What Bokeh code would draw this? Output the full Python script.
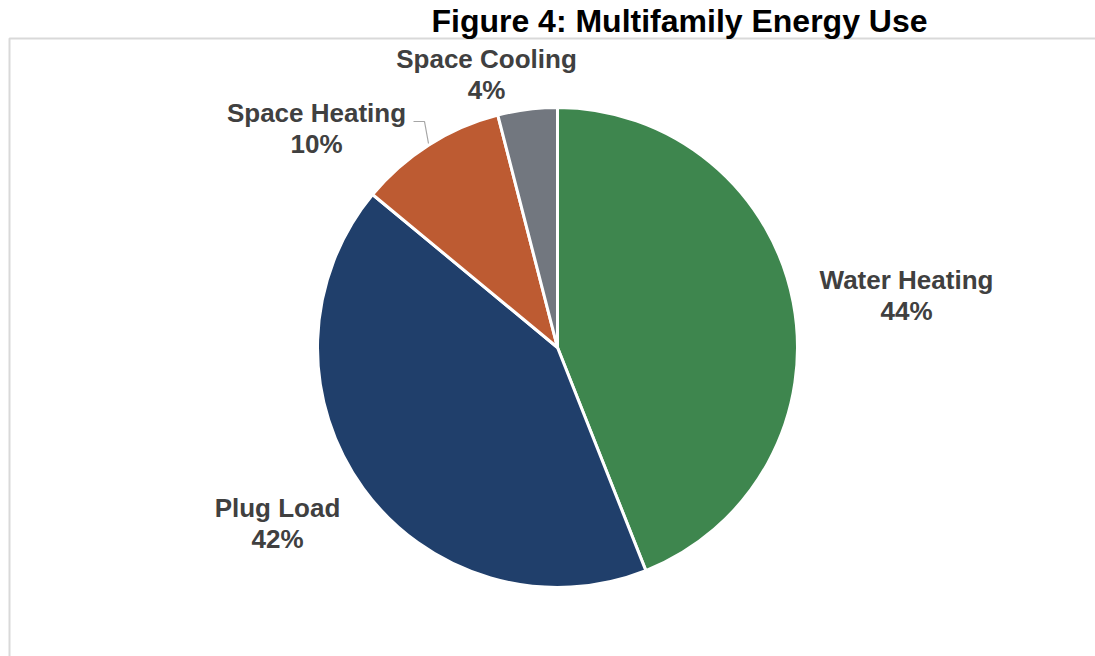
import math
from bokeh.plotting import figure
from bokeh.models import Range1d, Label, ColumnDataSource
from bokeh.embed import file_html
from bokeh.resources import INLINE

# ---- data ----
categories = ["Water Heating", "Plug Load", "Space Heating", "Space Cooling"]
values = [44, 42, 10, 4]
pct_labels = ["44%", "42%", "10%", "4%"]
colors = ["#3E864E", "#203F6B", "#BD5B32", "#72777F"]

# ---- layout (screen-pixel coordinates; y is negated screen y) ----
W, H = 1095, 656
cx, cy, R = 557, -347, 240
label_pos = [(906, -279), (277, -507), (316, -112), (486, -58)]
line_gap = 31
FONT = "Liberation Sans"
TXT = "#404040"

p = figure(width=W, height=H, output_backend="svg", toolbar_location=None,
           x_range=Range1d(0, W), y_range=Range1d(-H, 0),
           min_border=0, min_border_left=0, min_border_right=0,
           min_border_top=0, min_border_bottom=0)
p.axis.visible = False
p.grid.visible = False
p.outline_line_color = None
p.background_fill_color = "white"
p.border_fill_color = "white"

# frame border (chart area)
p.line([9, 9, 1100], [-700, -38, -38], line_color="#D9D9D9", line_width=2)

total = float(sum(values))
starts, ends = [], []
acc = 0.0
for v in values:
    starts.append(math.pi / 2 - 2 * math.pi * acc / total)
    acc += v
    ends.append(math.pi / 2 - 2 * math.pi * acc / total)

src = ColumnDataSource(dict(cat=categories, val=values, start=starts, end=ends, color=colors))
p.wedge(x=cx, y=cy, radius=R, start_angle="start", end_angle="end", direction="clock",
        fill_color="color", line_color="white", line_width=3, source=src)

# leader line for Space Heating
p.line([413, 424, 428], [-121, -121, -143], line_color="#A6A6A6", line_width=1.2)

for (lx, ly), name, pct in zip(label_pos, categories, pct_labels):
    p.add_layout(Label(x=lx, y=ly, text=name, text_align="center", text_baseline="middle",
                       text_font=FONT, text_font_style="bold", text_font_size="26px",
                       text_color=TXT))
    p.add_layout(Label(x=lx, y=ly - line_gap, text=pct, text_align="center", text_baseline="middle",
                       text_font=FONT, text_font_style="bold", text_font_size="26px",
                       text_color=TXT))

p.add_layout(Label(x=679, y=-20, text="Figure 4: Multifamily Energy Use", text_align="center",
                   text_baseline="middle", text_font=FONT, text_font_style="bold",
                   text_font_size="32px", text_color="#000000"))

open("out.html", "w").write(file_html(p, INLINE))
